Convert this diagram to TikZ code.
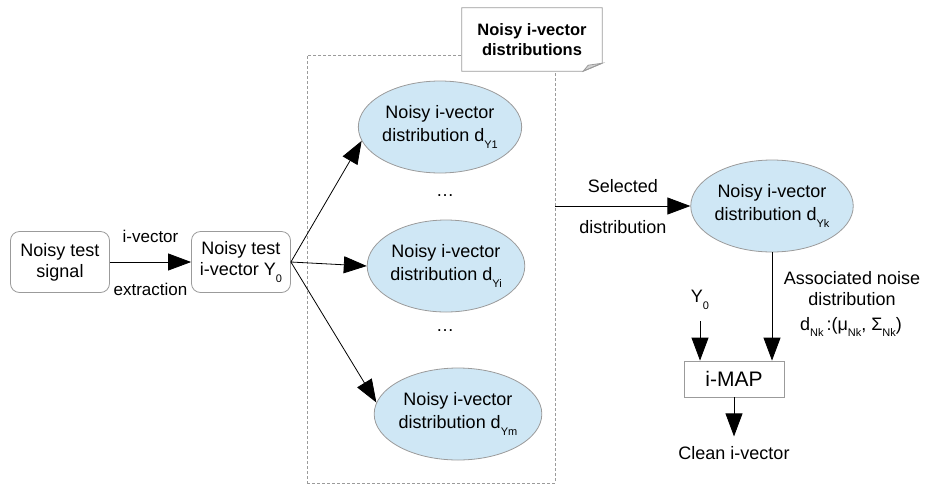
\documentclass[tikz,border=0pt]{standalone}
\usepackage{fontspec}
\setmainfont{Liberation Sans}
\usetikzlibrary{positioning,shapes.geometric,arrows.meta}
\definecolor{distblue}{RGB}{207,231,245}
\definecolor{rimgray}{RGB}{155,155,155}
\newcommand{\lowidx}[1]{\raisebox{-0.7ex}{\fontsize{11}{11}\selectfont #1}}

\begin{document}
\begin{tikzpicture}[x=1pt, y=-1pt,
                    roundbox/.style={rectangle, rounded corners=9pt, draw=rimgray, line width=0.8pt, minimum width=99pt, minimum height=61pt, inner sep=1pt, align=center, font=\fontsize{18}{21}\selectfont},
                    distnode/.style={ellipse, draw=rimgray, fill=distblue, line width=0.8pt, minimum width=148pt, minimum height=92pt, inner sep=0pt, align=center, font=\fontsize{18}{23}\selectfont},
                    mapbox/.style={rectangle, draw=rimgray, line width=0.8pt, minimum width=100pt, minimum height=36pt, font=\fontsize{21}{23}\selectfont},
                    plaintext/.style={align=center, font=\fontsize{18}{21}\selectfont},
                    flow/.style={-{Triangle[length=23pt,width=17pt]}, line width=0.8pt, black},]
    \useasboundingbox (0,0) rectangle (925,485);
    % group frame and note
    \node[draw=rimgray, dashed, dash pattern=on 3pt off 2pt, line width=0.6pt, minimum width=248pt, minimum height=428pt, inner sep=0pt] (grp) at (431,269) {};
    \node[minimum width=140pt, minimum height=63pt, inner sep=0pt, align=center, font=\bfseries\fontsize{16.5}{20}\selectfont] (note) at (532,39.5) {Noisy i-vector\\distributions};
    \fill[white] (note.north west) -- (note.north east) -- ([yshift=8pt]note.south east) -- ([xshift=-19pt]note.south east) -- (note.south west) -- cycle;
    \draw[rimgray, line width=0.8pt, fill=rimgray!45] ([yshift=8pt]note.south east) -- ([xshift=-19pt]note.south east) -- ([xshift=-14pt,yshift=6pt]note.south east) -- cycle;
    \draw[rimgray, line width=0.8pt] (note.north west) -- (note.north east) -- ([yshift=8pt]note.south east) -- ([xshift=-19pt]note.south east) -- (note.south west) -- cycle;
    \node[font=\bfseries\fontsize{16.5}{20}\selectfont, align=center] at (note) {Noisy i-vector\\distributions};
    % nodes
    \node[roundbox]      (sig)      at (60,262)      {Noisy test\\signal};
    \node[roundbox]      (y0)       at (241,262)     {Noisy test\\i-vector Y\lowidx{0}};
    \node[distnode]      (dy1)      at (440,127)     {Noisy i-vector\\distribution d\lowidx{Y1}};
    \node[plaintext]     (dots1)    at (445,196)     {…};
    \node[distnode]      (dyi)      at (446,266)     {Noisy i-vector\\distribution d\lowidx{Yi}};
    \node[plaintext]     (dots2)    at (445,331)     {…};
    \node[distnode]      (dym)      at (458,414)     {Noisy i-vector\\distribution d\lowidx{Ym}};
    \node[distnode]      (dyk)      at (772,206)     {Noisy i-vector\\distribution d\lowidx{Yk}};
    \node[mapbox]        (imap)     at (734,379)     {i-MAP};
    \node[plaintext]     (y0in)     at (700,300)     {Y\lowidx{0}};
    \node[plaintext]     (clean)    [below=46pt of imap.south] {Clean i-vector};
    \node[plaintext]     (noise)    at (852,289)     {Associated noise\\distribution};
    \node[plaintext]     (dnk)      at (851,327)     {d\lowidx{Nk}\,:(μ\lowidx{Nk}, Σ\lowidx{Nk})};
    % lines
    \draw[flow] (sig.east) -- node[plaintext, above=16pt, font=\fontsize{17}{20}\selectfont] {i-vector} node[plaintext, below=17pt, font=\fontsize{17}{20}\selectfont] {extraction} (y0.west);
    \draw[flow] (y0.east) -- (dy1.190);
    \draw[flow] (y0.east) -- (dyi.west);
    \draw[flow] (y0.east) -- (dym.172);
    \draw[flow] (grp.east |- dyk.west) -- node[plaintext, above=10pt] {Selected} node[plaintext, below=11pt] {distribution} (dyk.west);
    \draw[flow] (dyk.south) -- (dyk.south |- imap.north);
    \draw[flow] ([yshift=-8pt]y0in.south) -- (y0in.south |- imap.north);
    \draw[flow] (imap.south) -- ([yshift=7pt]clean.north);
\end{tikzpicture}
\end{document}
